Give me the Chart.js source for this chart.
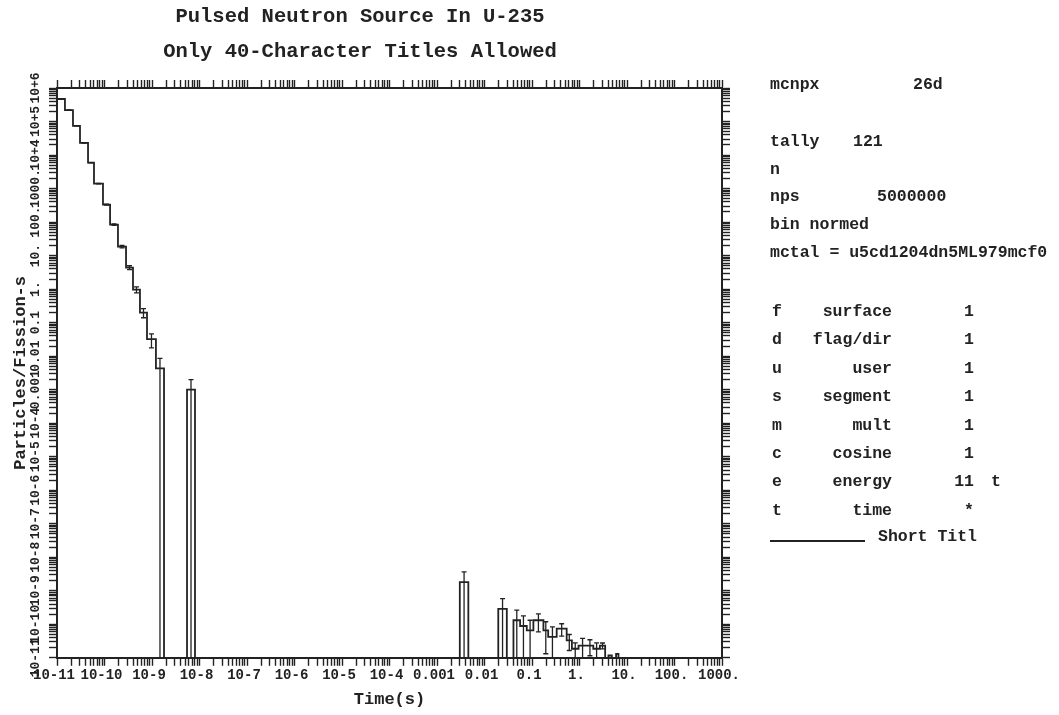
<!DOCTYPE html>
<html>
<head>
<meta charset="utf-8">
<script src="https://cdn.jsdelivr.net/npm/chart.js@4.4.0/dist/chart.umd.min.js"></script>
<style>
  body { margin: 0; background: #fff; }
  #wrap { position: relative; width: 1059px; height: 715px; }
  .t { position: absolute; font-family: "Liberation Mono", monospace; font-weight: bold; color: #222; white-space: pre; line-height: 1; }
  .title { font-size: 20.5px; transform: translate(-50%, -50%); }
  .info { font-size: 16.5px; transform: translateY(-50%); }
  .r { transform: translate(-100%, -50%); }
</style>
</head>
<body>
<div id="wrap">
  <canvas id="chart" width="1059" height="715"></canvas>

  <div class="t title" style="left:360px; top:17px">Pulsed Neutron Source In U-235</div>
  <div class="t title" style="left:360px; top:52px">Only 40-Character Titles Allowed</div>

  <div class="t info" style="left:770px; top:85px">mcnpx</div>
  <div class="t info" style="left:913px; top:85px">26d</div>
  <div class="t info" style="left:770px; top:142px">tally</div>
  <div class="t info" style="left:853px; top:142px">121</div>
  <div class="t info" style="left:770px; top:170px">n</div>
  <div class="t info" style="left:770px; top:197px">nps</div>
  <div class="t info" style="left:877px; top:197px">5000000</div>
  <div class="t info" style="left:770px; top:225px">bin normed</div>
  <div class="t info" style="left:770px; top:253px">mctal = u5cd1204dn5ML979mcf0</div>
  <div id="bins"></div>
  <div style="position:absolute; left:770px; top:540px; width:95px; height:1.5px; background:#222"></div>
  <div class="t info" style="left:878px; top:537px">Short Titl</div>
</div>

<script>
// tally 121, time bins (s), bin-normed values and relative errors
var binEdges = [1.00e-11, 1.47e-11, 2.17e-11, 3.05e-11, 4.50e-11, 6.01e-11, 9.29e-11, 1.31e-10,
  1.92e-10, 2.84e-10, 3.98e-10, 5.58e-10, 7.85e-10, 1.21e-9, 1.79e-9, 5.46e-9, 8.04e-9,
  3.02e-3, 4.57e-3, 1.95e-2, 2.95e-2, 4.07e-2, 5.62e-2, 7.76e-2, 0.107, 0.174, 0.219, 0.331,
  0.537, 0.692, 0.955, 1.41, 1.95, 2.69, 3.47, 4.07, 4.79, 5.89, 6.61, 1000];
var binValues = [4.7e5, 2.2e5, 7.4e4, 2.3e4, 5.9e3, 1.4e3, 330, 84, 18.5, 4.4, 0.97, 0.20, 0.032, 0.0043,
  0, 1.0e-3, 0, 1.82e-9, 0, 2.9e-10, 0, 1.32e-10, 8.9e-11, 6.6e-11, 1.32e-10, 6.6e-11, 4.2e-11,
  7.4e-11, 3.3e-11, 1.86e-11, 2.3e-11, 2.3e-11, 1.86e-11, 2.3e-11, 0, 1.17e-11, 0, 1.3e-11, 0];
var relErr = [0.002, 0.003, 0.005, 0.008, 0.012, 0.02, 0.03, 0.05, 0.08, 0.13, 0.2, 0.3, 0.45, 1,
  0, 1, 0, 1, 0, 1, 0, 1, 1, 1, 0.55, 0.8, 1, 0.4, 0.5, 0.5, 0.65, 0.5, 0.5, 0.2, 0, 0, 0, 0, 0];

var xTickLabels = ['10-11', '10-10', '10-9', '10-8', '10-7', '10-6', '10-5', '10-4', '0.001',
  '0.01', '0.1', '1.', '10.', '100.', '1000.'];
var yTickLabels = ['10-11', '10-10', '10-9', '10-8', '10-7', '10-6', '10-5', '10-4', '0.001',
  '0.01', '0.1', '1.', '10.', '100.', '1000.', '10+4', '10+5', '10+6'];

// detector table on the right
var binRows = [
  ['f', 'surface', '1', ''],
  ['d', 'flag/dir', '1', ''],
  ['u', 'user', '1', ''],
  ['s', 'segment', '1', ''],
  ['m', 'mult', '1', ''],
  ['c', 'cosine', '1', ''],
  ['e', 'energy', '11', 't'],
  ['t', 'time', '*', '']
];

var X_MIN = 1e-11, X_MAX = 1e3, Y_MIN = 1e-11, Y_MAX = 1e6;
var INK = '#222';
var MONO = "'Liberation Mono', monospace";

var html = '';
binRows.forEach(function (r, i) {
  var y = 312 + i * 28.4;
  html += '<div class="t info" style="left:772px; top:' + y + 'px">' + r[0] + '</div>';
  html += '<div class="t info r" style="left:892px; top:' + y + 'px">' + r[1] + '</div>';
  html += '<div class="t info r" style="left:974px; top:' + y + 'px">' + r[2] + '</div>';
  if (r[3]) html += '<div class="t info" style="left:991px; top:' + y + 'px">' + r[3] + '</div>';
});
document.getElementById('bins').innerHTML = html;

// stepped histogram points, empty bins sit on the axis floor
var steps = binValues.map(function (v, i) {
  return { x: binEdges[i], y: v > 0 ? v : Y_MIN };
});
steps.push({ x: binEdges[binEdges.length - 1], y: Y_MIN });

function logTicks(lo, hi) {
  var t = [];
  for (var e = lo; e < hi; e++) {
    for (var k = 1; k <= 9; k++) t.push({ value: k * Math.pow(10, e) });
  }
  t.push({ value: Math.pow(10, hi) });
  return t;
}

function decadeLabel(labels, lo) {
  return function (v) {
    var e = Math.round(Math.log10(v));
    if (Math.abs(v / Math.pow(10, e) - 1) > 1e-6) return '';
    return labels[e - lo] || '';
  };
}

var errorBars = {
  id: 'errorBars',
  afterDatasetsDraw: function (chart) {
    var ctx = chart.ctx, area = chart.chartArea, xs = chart.scales.x, ys = chart.scales.y;
    ctx.save();
    ctx.beginPath();
    ctx.rect(area.left, area.top, area.right - area.left, area.bottom - area.top);
    ctx.clip();
    ctx.strokeStyle = INK;
    ctx.lineWidth = 1.3;
    binValues.forEach(function (v, i) {
      var r = relErr[i];
      if (!v || !r) return;
      var xc = xs.getPixelForValue(Math.sqrt(binEdges[i] * binEdges[i + 1]));
      var yHi = ys.getPixelForValue(v * (1 + r));
      var yLo = r >= 1 ? ys.getPixelForValue(Y_MIN) : ys.getPixelForValue(v * (1 - r));
      ctx.beginPath();
      ctx.moveTo(xc, yLo);
      ctx.lineTo(xc, yHi);
      ctx.moveTo(xc - 2.5, yHi);
      ctx.lineTo(xc + 2.5, yHi);
      if (r < 1) {
        ctx.moveTo(xc - 2.5, yLo);
        ctx.lineTo(xc + 2.5, yLo);
      }
      ctx.stroke();
    });
    ctx.restore();
  }
};

var tickGrid = { display: true, drawOnChartArea: false, drawTicks: true, tickLength: 8, tickColor: INK, tickWidth: 1.4 };
var border = { display: true, color: INK, width: 2 };

new Chart(document.getElementById('chart').getContext('2d'), {
  type: 'line',
  data: {
    datasets: [{
      data: steps,
      stepped: 'before',
      borderColor: INK,
      borderWidth: 1.8,
      pointRadius: 0,
      fill: false
    }]
  },
  options: {
    responsive: false,
    animation: false,
    layout: { padding: { left: 11, right: 329, top: 80, bottom: 2 } },
    plugins: { legend: { display: false }, tooltip: { enabled: false } },
    scales: {
      x: {
        type: 'logarithmic', position: 'bottom', min: X_MIN, max: X_MAX,
        afterBuildTicks: function (axis) { axis.ticks = logTicks(-11, 3); },
        grid: tickGrid, border: border,
        ticks: {
          autoSkip: false, maxRotation: 0, padding: 1, labelOffset: -3, color: INK,
          font: { family: MONO, size: 14, weight: 'bold' },
          callback: decadeLabel(xTickLabels, -11)
        },
        title: { display: true, text: 'Time(s)', color: INK, padding: { top: 5, bottom: 3 },
          font: { family: MONO, size: 17, weight: 'bold' } }
      },
      x2: {
        type: 'logarithmic', position: 'top', min: X_MIN, max: X_MAX,
        afterBuildTicks: function (axis) { axis.ticks = logTicks(-11, 3); },
        grid: tickGrid, border: border,
        ticks: { display: false }
      },
      y: {
        type: 'logarithmic', position: 'left', min: Y_MIN, max: Y_MAX,
        afterBuildTicks: function (axis) { axis.ticks = logTicks(-11, 6); },
        grid: tickGrid, border: border,
        ticks: {
          autoSkip: false, minRotation: 90, maxRotation: 90, crossAlign: 'center', padding: -6, color: INK,
          font: { family: MONO, size: 13, weight: 'bold' },
          callback: decadeLabel(yTickLabels, -11)
        },
        title: { display: true, text: 'Particles/Fission-s', color: INK, padding: { top: 0, bottom: 14 },
          font: { family: MONO, size: 17, weight: 'bold' } }
      },
      y2: {
        type: 'logarithmic', position: 'right', min: Y_MIN, max: Y_MAX,
        afterBuildTicks: function (axis) { axis.ticks = logTicks(-11, 6); },
        grid: tickGrid, border: border,
        ticks: { display: false }
      }
    }
  },
  plugins: [errorBars]
});
</script>
</body>
</html>
